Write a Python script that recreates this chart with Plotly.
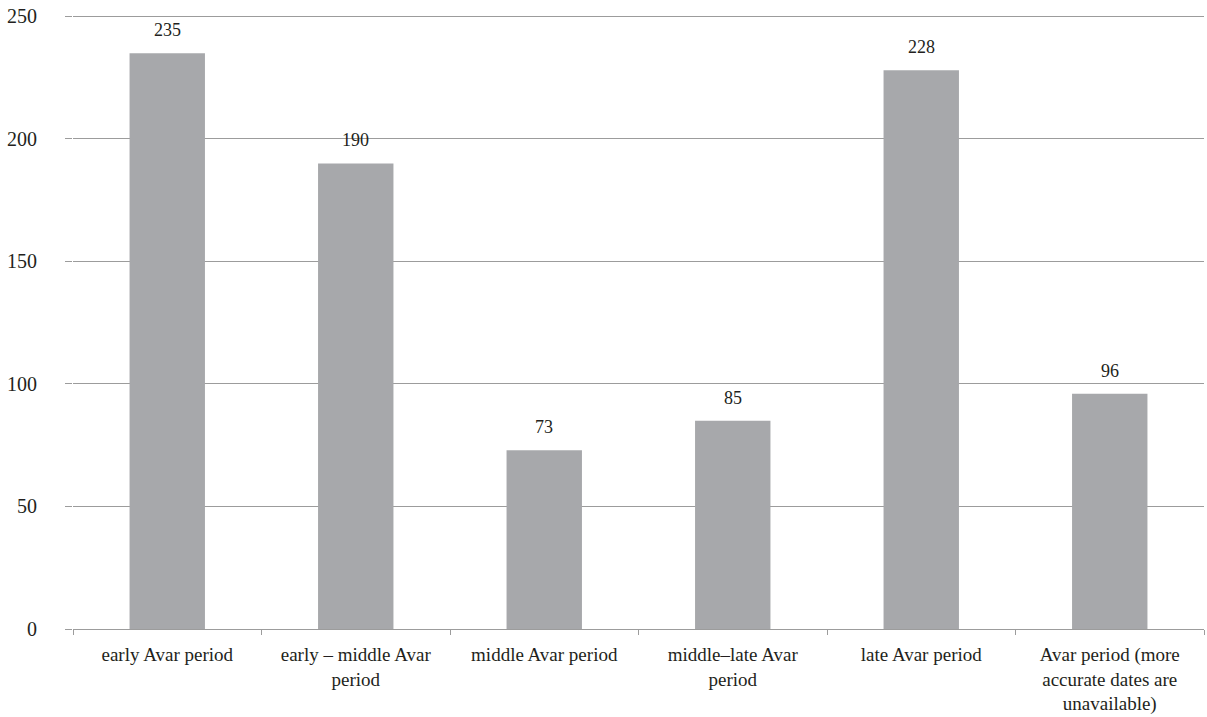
import plotly.graph_objects as go

# Find counts per chronological phase
periods = [
    "early Avar period",
    "early – middle Avar<br>period",
    "middle Avar period",
    "middle–late Avar<br>period",
    "late Avar period",
    "Avar period (more<br>accurate dates are<br>unavailable)",
]
counts = [235, 190, 73, 85, 228, 96]

y_ticks = [0, 50, 100, 150, 200, 250]

FONT = "Liberation Serif"
TEXT_COLOR = "#231f20"
GRID_COLOR = "#9c9c9c"
BAR_COLOR = "#a7a8ab"

fig = go.Figure(
    go.Bar(
        x=periods,
        y=counts,
        marker=dict(color=BAR_COLOR, line=dict(width=0)),
        width=0.4,
        hoverinfo="x+y",
    )
)

# value labels floating above each bar
for p, c in zip(periods, counts):
    fig.add_annotation(
        x=p, y=c, text=str(c), showarrow=False,
        yshift=23, font=dict(family=FONT, size=18, color=TEXT_COLOR),
    )

fig.update_layout(
    width=1207,
    height=717,
    margin=dict(l=73, r=3, t=14, b=88, autoexpand=False),
    paper_bgcolor="white",
    plot_bgcolor="white",
    showlegend=False,
    font=dict(family=FONT, size=19, color=TEXT_COLOR),
)

fig.update_xaxes(
    type="category",
    automargin=False,
    tickson="boundaries",
    ticks="outside",
    ticklen=5,
    tickcolor=GRID_COLOR,
    showline=True,
    linecolor=GRID_COLOR,
    linewidth=1,
    showgrid=False,
    ticklabelstandoff=8,
    tickfont=dict(family=FONT, size=19, color=TEXT_COLOR),
)

fig.update_yaxes(
    range=[0, 251],
    automargin=False,
    tickvals=y_ticks,
    ticks="outside",
    ticklen=7,
    tickcolor=GRID_COLOR,
    showgrid=True,
    gridcolor=GRID_COLOR,
    gridwidth=1,
    zeroline=False,
    showline=False,
    ticklabelstandoff=24,
    tickfont=dict(family=FONT, size=20, color=TEXT_COLOR),
)

fig.write_html("out.html")
